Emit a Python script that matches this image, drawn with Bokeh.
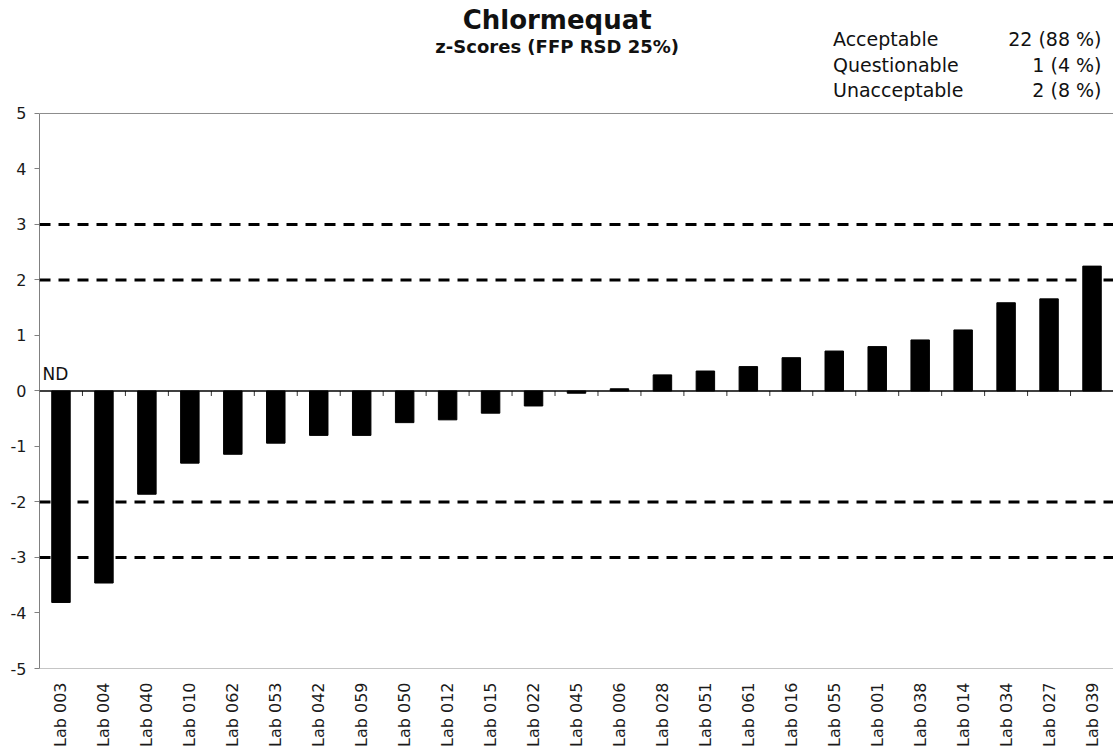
from bokeh.plotting import figure
from bokeh.models import FactorRange, Range1d, Span, Label, FixedTicker, PrintfTickFormatter
from bokeh.embed import file_html
from bokeh.resources import INLINE
from math import pi

# ---- data ----
labs = ["Lab 003", "Lab 004", "Lab 040", "Lab 010", "Lab 062", "Lab 053", "Lab 042",
        "Lab 059", "Lab 050", "Lab 012", "Lab 015", "Lab 022", "Lab 045", "Lab 006",
        "Lab 028", "Lab 051", "Lab 061", "Lab 016", "Lab 055", "Lab 001", "Lab 038",
        "Lab 014", "Lab 034", "Lab 027", "Lab 039"]
z_scores = [-3.81, -3.46, -1.86, -1.30, -1.14, -0.94, -0.80, -0.80, -0.57, -0.52,
            -0.40, -0.27, -0.04, 0.04, 0.29, 0.36, 0.44, 0.60, 0.72, 0.80, 0.92,
            1.10, 1.59, 1.66, 2.25]
limit_lines = [-3, -2, 2, 3]
y_ticks = [-5, -4, -3, -2, -1, 0, 1, 2, 3, 4, 5]
title_text = "Chlormequat"
subtitle_text = "z-Scores (FFP RSD 25%)"
summary_names = ["Acceptable", "Questionable", "Unacceptable"]
summary_counts = ["22 (88 %)", "1 (4 %)", "2 (8 %)"]
nd_label = "ND"

FONT = "DejaVu Sans"

W, H = 1113, 753
Y_TOP = 7.036  # headroom above the axis for title & summary text
p = figure(width=W, height=H, x_range=FactorRange(*labs, range_padding=0),
           y_range=Range1d(y_ticks[0], Y_TOP), output_backend="svg", toolbar_location=None,
           min_border_left=39, min_border_right=0, min_border_top=0,
           min_border_bottom=85)
p.outline_line_color = None
p.xgrid.grid_line_color = None
p.ygrid.grid_line_color = None
p.background_fill_color = "white"
p.border_fill_color = "white"

# y axis
p.yaxis.ticker = FixedTicker(ticks=y_ticks)
p.yaxis.formatter = PrintfTickFormatter(format="%d")
p.yaxis.bounds = (y_ticks[0], y_ticks[-1])
p.yaxis.axis_line_color = "#808080"
p.yaxis.major_tick_line_color = "#808080"
p.yaxis.major_tick_out = 5
p.yaxis.major_tick_in = 0
p.yaxis.minor_tick_line_color = None
p.yaxis.major_label_standoff = 8
p.yaxis.major_label_text_font = FONT
p.yaxis.major_label_text_font_size = "16px"
p.yaxis.major_label_text_color = "#1a1a1a"

# x axis (labels only, at bottom)
p.xaxis.axis_line_color = None
p.xaxis.major_tick_line_color = None
p.xaxis.major_tick_out = 0
p.xaxis.major_tick_in = 0
p.xaxis.minor_tick_line_color = None
p.xaxis.major_label_orientation = pi / 2
p.xaxis.major_label_standoff = 14
p.xaxis.major_label_text_font = FONT
p.xaxis.major_label_text_font_size = "16px"
p.xaxis.major_label_text_color = "#1a1a1a"

# frame top / bottom lines
for yy in (y_ticks[0], y_ticks[-1]):
    p.add_layout(Span(location=yy, dimension="width", line_color="#8c8c8c", line_width=1))

# limit lines
for yy in limit_lines:
    p.add_layout(Span(location=yy, dimension="width", line_color="black",
                      line_width=3, line_dash="11 8"))

# bars
p.vbar(x=labs, top=z_scores, width=0.43, fill_color="black", line_color="black")

# zero line and category ticks
p.add_layout(Span(location=0, dimension="width", line_color="black", line_width=1.5))
bounds = list(range(1, len(labs)))
p.segment(x0=bounds, x1=bounds, y0=[0] * len(bounds), y1=[-0.09] * len(bounds),
          line_color="#333333", line_width=1)

# ND label
p.add_layout(Label(x=0.07, y=0.30, text=nd_label, text_font=FONT,
                   text_font_size="17px", text_color="#111111",
                   text_align="left", text_baseline="alphabetic"))

# titles
p.add_layout(Label(x=12.05, y=6.68, text=title_text, text_font=FONT,
                   text_font_size="26px", text_font_style="bold",
                   text_color="#111111", text_align="center",
                   text_baseline="alphabetic"))
p.add_layout(Label(x=12.05, y=6.21, text=subtitle_text, text_font=FONT,
                   text_font_size="18px", text_font_style="bold",
                   text_color="#111111", text_align="center",
                   text_baseline="alphabetic"))

# summary table
row_y = [6.35, 5.88, 5.42]
for name, cnt, yy in zip(summary_names, summary_counts, row_y):
    p.add_layout(Label(x=18.47, y=yy, text=name, text_font=FONT,
                       text_font_size="19px", text_color="#111111",
                       text_align="left", text_baseline="alphabetic"))
    p.add_layout(Label(x=24.72, y=yy, text=cnt, text_font=FONT,
                       text_font_size="19px", text_color="#111111",
                       text_align="right", text_baseline="alphabetic"))

open("out.html", "w").write(file_html(p, INLINE))
